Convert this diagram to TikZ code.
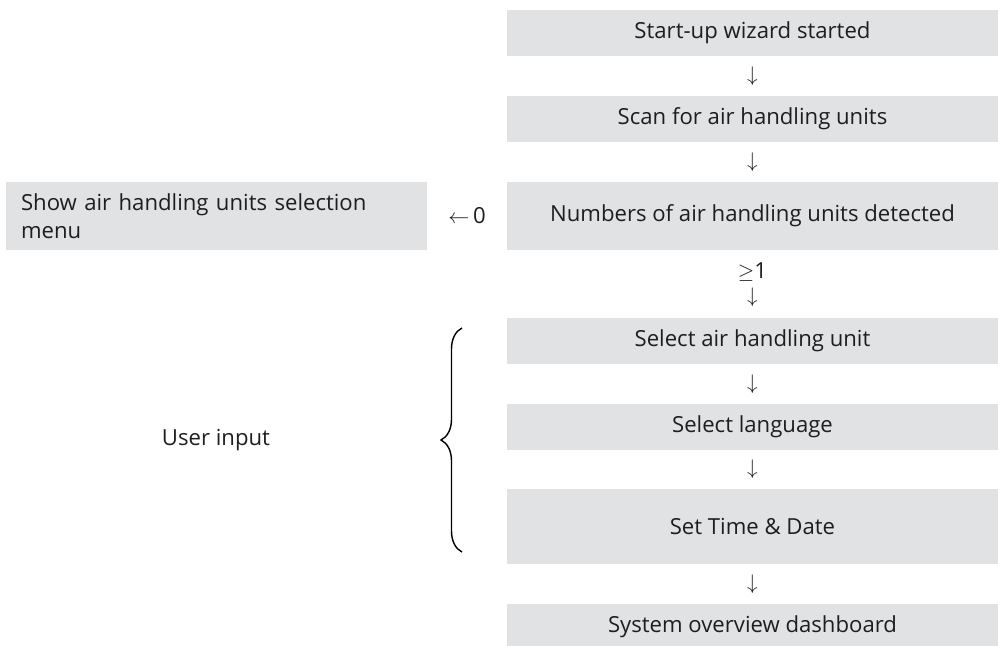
\documentclass[tikz,border=0pt]{standalone}
\usepackage{fontspec}
\setmainfont{Open Sans}
\usepackage{xcolor}
\usetikzlibrary{calc, decorations.pathreplacing}
\definecolor{boxgrey}{RGB}{225,226,228}
\definecolor{inkgrey}{RGB}{30,30,30}
\tikzset{%
	step box/.style={
		fill=boxgrey,
		text=inkgrey,
		minimum width=9.82cm,
		minimum height=0.92cm,
		inner sep=0pt,
		font=\fontsize{12.6}{16}\selectfont
	},
	flow mark/.style={
		text=inkgrey,
		inner sep=0pt,
		font=\fontsize{12.6}{16}\selectfont
	},
}

\begin{document}
\begin{tikzpicture}[x=0.02cm, y=-0.02cm]
	\useasboundingbox (0,0) rectangle (998,646);

	% Main column of steps
	\node[step box] (wizard) at (752.5,33) {Start-up wizard started};
	\node[step box] (scan) at (752.5,119) {Scan for air handling units};
	\node[step box, minimum height=1.36cm] (count) at (752.5,216) {Numbers of air handling units detected};
	\node[step box] (unit) at (752.5,341) {Select air handling unit};
	\node[step box] (lang) at (752.5,427) {Select language};
	\node[step box, minimum height=1.5cm] (time) at (752.5,526.5) {Set Time \& Date};
	\node[step box] (dash) at (752.5,627) {System overview dashboard};

	% Side branch
	\node[step box, minimum width=8.42cm, minimum height=1.36cm, text width=7.82cm, align=left] (menu) at (216.5,216)
		{Show air handling units selection\\menu};
	\node[flow mark] (none) at ($(menu.east)!0.5!(count.west)$) {$\leftarrow$\,0};

	% Arrows between the steps
	\node[flow mark] at ($(wizard.south)!0.5!(scan.north)$) {$\downarrow$};
	\node[flow mark] at ($(scan.south)!0.5!(count.north)$) {$\downarrow$};
	\node[flow mark] (some) at ($(count.south)!0.32!(unit.north)$) {$\geq$1};
	\node[flow mark] at ($(count.south)!0.7!(unit.north)$) {$\downarrow$};
	\node[flow mark] at ($(unit.south)!0.5!(lang.north)$) {$\downarrow$};
	\node[flow mark] at ($(lang.south)!0.5!(time.north)$) {$\downarrow$};
	\node[flow mark] at ($(time.south)!0.5!(dash.north)$) {$\downarrow$};

	% Brace for the user input steps
	\coordinate (brace top) at (462,328);
	\coordinate (brace end) at (462,552);
	\draw[line width=0.8pt, decorate, decoration={brace, amplitude=0.42cm}] (brace end) -- (brace top);
	\node[flow mark] (input) at (216,440) {User input};
\end{tikzpicture}
\end{document}
